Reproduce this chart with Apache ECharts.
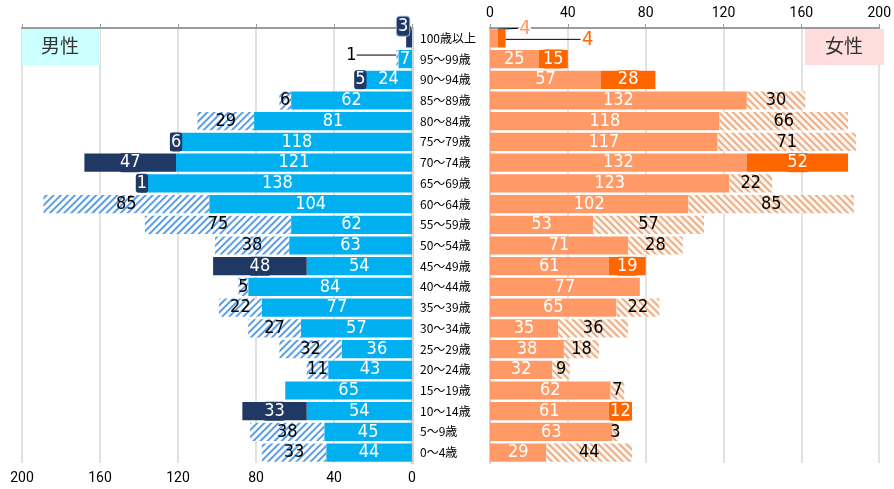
<!DOCTYPE html>
<html>
<head>
<meta charset="utf-8">
<script src="https://cdn.jsdelivr.net/npm/echarts@6/dist/echarts.min.js"></script>
<style>
  html, body { margin: 0; padding: 0; background: #fff; }
  #chart { width: 894px; height: 489px; }
</style>
</head>
<body>
<div id="chart"></div>
<script>
const ages = ['100歳以上', '95〜99歳', '90〜94歳', '85〜89歳', '80〜84歳', '75〜79歳', '70〜74歳',
  '65〜69歳', '60〜64歳', '55〜59歳', '50〜54歳', '45〜49歳', '40〜44歳', '35〜39歳', '30〜34歳',
  '25〜29歳', '20〜24歳', '15〜19歳', '10〜14歳', '5〜9歳', '0〜4歳'];

const maleMain = [0, 7, 24, 62, 81, 118, 121, 138, 104, 62, 63, 54, 84, 77, 57, 36, 43, 65, 54, 45, 44];
const maleExtra = [3, 1, 5, 6, 29, 6, 47, 1, 85, 75, 38, 48, 5, 22, 27, 32, 11, 0, 33, 38, 33];
// d = solid dark segment, h = hatched segment
const maleKind = ['d', 'h', 'd', 'h', 'h', 'd', 'd', 'd', 'h', 'h', 'h', 'd', 'h', 'h', 'h', 'h', 'h', '', 'd', 'h', 'h'];

const femaleMain = [4, 25, 57, 132, 118, 117, 132, 123, 102, 53, 71, 61, 77, 65, 35, 38, 32, 62, 61, 63, 29];
const femaleExtra = [4, 15, 28, 30, 66, 71, 52, 22, 85, 57, 28, 19, 0, 22, 36, 18, 9, 7, 12, 3, 44];
const femaleKind = ['d', 'd', 'd', 'h', 'h', 'h', 'd', 'h', 'h', 'h', 'h', 'd', '', 'h', 'h', 'h', 'h', 'h', 'd', 'h', 'h'];

const NUM_FONT = '"Liberation Sans Narrow","DejaVu Sans Condensed",Roboto,sans-serif';
const JP_FONT = '"Noto Sans CJK JP",sans-serif';

const BLUE = '#00b0f0', NAVY = '#203864';
const SALMON = '#ff9966', ORANGE = '#ff6600';

// labels pulled away from tiny bars, with a leader line
const moved = {
  maleExtra: { 0: [-6, -12], 1: [-46, -4] },
  femaleMain: { 0: [31, -10] },
  femaleExtra: { 0: [86, 1] }
};

function mainData(vals) {
  return vals.map(v => ({ value: v, label: { show: v > 0 } }));
}

function extraData(vals, kinds, dark, stripe, bg, rot) {
  return vals.map((v, i) => {
    if (!v) return { value: 0, label: { show: false } };
    if (kinds[i] === 'd') {
      return {
        value: v,
        itemStyle: { color: dark },
        label: { color: '#fff', backgroundColor: dark, borderRadius: 3, padding: [1, 1, 0, 1] }
      };
    }
    return {
      value: v,
      itemStyle: {
        color: bg,
        decal: { symbol: 'rect', symbolSize: 1, color: stripe, dashArrayX: [1, 0], dashArrayY: [2, 3], rotation: rot }
      },
      label: { color: '#000' }
    };
  });
}

function layoutFor(name) {
  return function (params) {
    const m = moved[name] && moved[name][params.dataIndex];
    if (!m) return {};
    return { dx: m[0], dy: m[1] };
  };
}

const labelBase = {
  show: true,
  position: 'inside',
  color: '#fff',
  fontFamily: NUM_FONT,
  fontSize: 18
};

const chart = echarts.init(document.getElementById('chart'));

const guide = { show: true, lineStyle: { color: '#000', width: 1 } };

const maleExtraData = extraData(maleExtra, maleKind, NAVY, '#5a9ee6', '#ffffff', -Math.PI / 4);
maleExtraData[0].label.borderColor = '#9fb3d1';
maleExtraData[0].label.borderWidth = 1;
maleExtraData[0].labelLine = guide;
maleExtraData[1].labelLine = guide;

const femaleMainData = mainData(femaleMain);
femaleMainData[0].label = { show: true, color: SALMON, textBorderColor: '#fff', textBorderWidth: 3, fontSize: 20 };
femaleMainData[0].labelLine = guide;

const femaleExtraData = extraData(femaleExtra, femaleKind, ORANGE, '#eaae88', '#fdf6ef', Math.PI / 4);
femaleExtraData[0].label = { show: true, color: ORANGE, backgroundColor: 'transparent', textBorderColor: '#fff', textBorderWidth: 3, fontSize: 20 };
femaleExtraData[0].labelLine = guide;

chart.setOption({
  animation: false,
  grid: [
    { left: 22, right: 482, top: 28, bottom: 26 },
    { left: 490, right: 12, top: 28, bottom: 26 }
  ],
  xAxis: [
    {
      gridIndex: 0, type: 'value', min: 0, max: 200, interval: 40, inverse: true, position: 'bottom',
      axisLine: { show: false }, axisTick: { show: false },
      axisLabel: { fontSize: 14, color: '#000', margin: 8, fontFamily: 'Roboto, sans-serif' },
      splitLine: { lineStyle: { color: '#d9d9d9', width: 1.5 } }
    },
    {
      gridIndex: 0, type: 'value', min: 0, max: 200, interval: 40, inverse: true, position: 'top',
      axisLine: { show: true, lineStyle: { color: '#9a9a9a', width: 2 } },
      axisTick: { show: true, length: 4, lineStyle: { color: '#9a9a9a' } },
      axisLabel: { show: false }, splitLine: { show: false }
    },
    {
      gridIndex: 1, type: 'value', min: 0, max: 200, interval: 40, position: 'top',
      axisLine: { show: true, lineStyle: { color: '#9a9a9a', width: 2 } },
      axisTick: { show: true, length: 4, lineStyle: { color: '#9a9a9a' } },
      axisLabel: { fontSize: 14, color: '#000', margin: 8, fontFamily: 'Roboto, sans-serif' },
      splitLine: { lineStyle: { color: '#d9d9d9', width: 1.5 } }
    }
  ],
  yAxis: [
    {
      gridIndex: 0, type: 'category', data: ages, inverse: true, position: 'right',
      axisLine: { show: true, lineStyle: { color: '#d4d4d4', width: 3 } },
      axisTick: { show: false }, axisLabel: { show: false }
    },
    {
      gridIndex: 1, type: 'category', data: ages, inverse: true, position: 'left',
      axisLine: { show: true, lineStyle: { color: '#d4d4d4', width: 2 } },
      axisTick: { show: false },
      axisLabel: { align: 'left', margin: 70, fontSize: 12, color: '#000', fontFamily: JP_FONT }
    }
  ],
  series: [
    {
      name: 'maleMain', type: 'bar', xAxisIndex: 0, yAxisIndex: 0, stack: 'm',
      barCategoryGap: '12%', itemStyle: { color: BLUE },
      label: labelBase, data: mainData(maleMain)
    },
    {
      name: 'maleExtra', type: 'bar', xAxisIndex: 0, yAxisIndex: 0, stack: 'm',
      barCategoryGap: '12%',
      label: labelBase, labelLayout: layoutFor('maleExtra'),
      data: maleExtraData
    },
    {
      name: 'femaleMain', type: 'bar', xAxisIndex: 2, yAxisIndex: 1, stack: 'f',
      barCategoryGap: '12%', itemStyle: { color: SALMON },
      label: labelBase, labelLayout: layoutFor('femaleMain'),
      data: femaleMainData
    },
    {
      name: 'femaleExtra', type: 'bar', xAxisIndex: 2, yAxisIndex: 1, stack: 'f',
      barCategoryGap: '12%',
      label: labelBase, labelLayout: layoutFor('femaleExtra'),
      data: femaleExtraData
    }
  ],
  graphic: [
    { type: 'rect', left: 22, top: 29, shape: { width: 78, height: 36 }, style: { fill: '#ccffff' }, z: 50 },
    { type: 'text', left: 41, top: 36, style: { text: '男性', font: '19px "Noto Sans CJK JP"', fill: '#333' }, z: 51 },
    { type: 'rect', left: 805, top: 29, shape: { width: 79, height: 36 }, style: { fill: '#ffdddd' }, z: 50 },
    { type: 'text', left: 825, top: 36, style: { text: '女性', font: '19px "Noto Sans CJK JP"', fill: '#333' }, z: 51 }
  ]
});
</script>
</body>
</html>
